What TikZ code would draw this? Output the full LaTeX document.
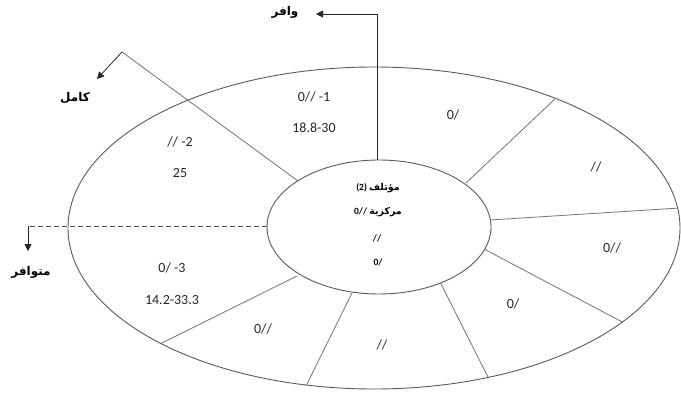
\documentclass[tikz,border=0pt]{standalone}
\usepackage{fontspec}
\setmainfont{Carlito}
\newfontfamily\arabicfont[Script=Arabic]{DejaVu Sans}
\TeXXeTstate=1
\usetikzlibrary{arrows.meta,calc}
\begin{document}
\begin{tikzpicture}[x=1pt,y=-1pt,
  spoke/.style={draw=black!55, line width=0.8pt},
  rim/.style={draw=black!65, line width=0.9pt},
  pointer/.style={draw=black!85, line width=0.8pt, -{Triangle[length=7pt,width=7pt]}},
  num/.style={font=\fontsize{14}{16}\selectfont, text=black!85, inner sep=0pt},
  small/.style={font=\fontsize{9.5}{11}\selectfont\bfseries, inner sep=0pt},
  ar/.style={font=\arabicfont\bfseries\fontsize{12}{14}\selectfont, inner sep=0pt}]
\useasboundingbox (0,0) rectangle (681,396);

% spoke coordinates
\coordinate (i1) at (298,181);
\coordinate (o1) at (122,52);
\coordinate (i2) at (466,183);
\coordinate (o2) at (557,97);
\coordinate (i3) at (490,220);
\coordinate (o3) at (680,208);
\coordinate (i4) at (484,249);
\coordinate (o4) at (628,325);
\coordinate (i5) at (440,282);
\coordinate (o5) at (489,379);
\coordinate (i6) at (352,293);
\coordinate (o6) at (306,386);
\coordinate (i7) at (297,276);
\coordinate (o7) at (162,343);
\coordinate (itop) at (377,160);
\coordinate (ttop) at (377,14);
\coordinate (atop) at (316,14);
\coordinate (akam) at (97,79);
\coordinate (ileft) at (267,226);
\coordinate (dleft) at (28,226);
\coordinate (adown) at (28,251);

% spokes, clipped to the outer rim
\begin{scope}
  \clip (374,228) ellipse [x radius=306pt, y radius=161pt];
  \foreach \k in {2,...,7}{
    \draw[spoke] (i\k) -- ($(i\k)!1.15!(o\k)$);
  }
\end{scope}

% rims
\draw[rim] (374,228) ellipse [x radius=306pt, y radius=161pt];
\draw[rim, fill=white] (379,227) ellipse [x radius=112pt, y radius=67pt];

\draw[spoke] (i1) -- (o1);
\draw[pointer] (o1) -- (akam);

\draw[pointer] (itop) -- (ttop) -- (atop);
\draw[black!70, line width=0.8pt, dash pattern=on 5pt off 3pt] (ileft) -- (dleft);
\draw[pointer] (dleft) -- (adown);

% outer labels
\node[ar] (wafir) at (285,12) {\beginR وافر\endR};
\node[ar] (kamil) at (75,98) {\beginR كامل\endR};
\node[ar] (mutawafir) at (31,272) {\beginR متوافر\endR};

% sector labels
\node[num] (s1a) at (314,97) {0// -1};
\node[num] (s1b) at (314,128) {18.8-30};
\node[num] (s2) at (453,115) {0/};
\node[num] (s3) at (596,167) {//};
\node[num] (s4) at (612,248) {0//};
\node[num] (s5) at (513,304) {0/};
\node[num] (s6) at (382,345) {//};
\node[num] (s7) at (263,329) {0//};
\node[num] (s8a) at (172,268) {0/ -3};
\node[num] (s8b) at (172,300) {14.2-33.3};
\node[num] (s9a) at (180,142) {// -2};
\node[num] (s9b) at (180,173) {25};

% center labels
\node[small] (c1) at (378,188) {(2) {\arabicfont\beginR مؤتلف\endR}};
\node[small] (c2) at (378,212) {0// {\arabicfont\beginR مركزية\endR}};
\node[small] (c3) at (377,238) {//};
\node[small] (c4) at (378,262) {0/};
\end{tikzpicture}
\end{document}
